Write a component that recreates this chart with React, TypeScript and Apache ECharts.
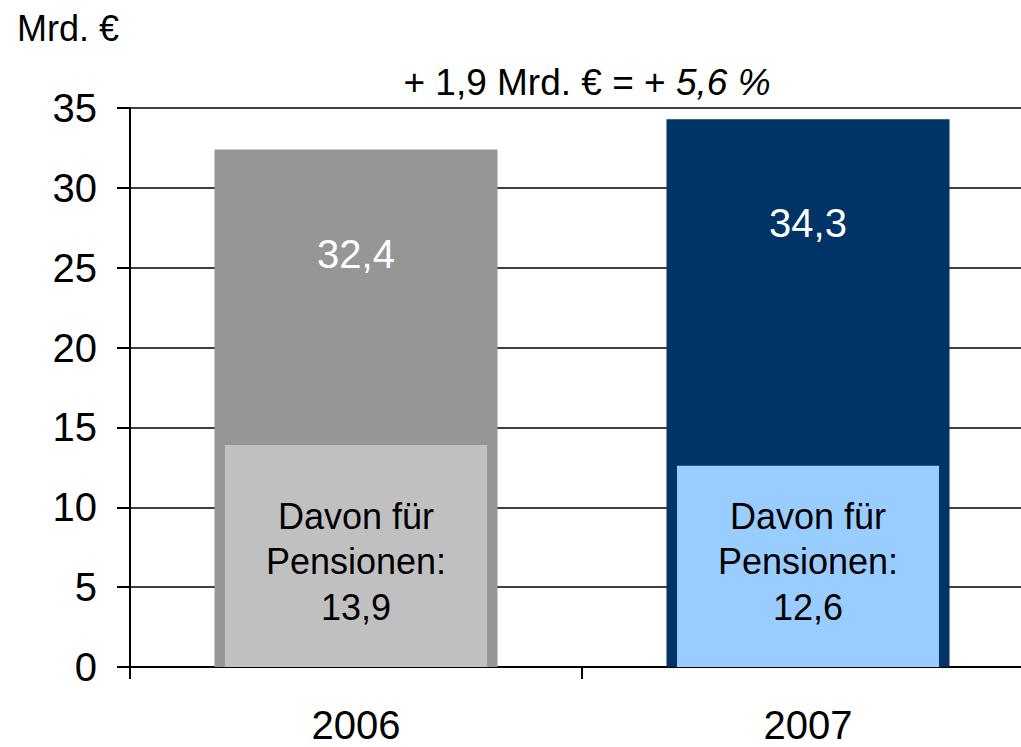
import React, { useEffect, useRef } from "react";
import * as echarts from "echarts";

const categories = ["2006", "2007"];
const totalValues = [32.4, 34.3];
const pensionValues = [13.9, 12.6];
const totalColors = ["#969696", "#003366"];
const pensionColors = ["#C0C0C0", "#99CCFF"];
const pensionLabel = ["Davon für", "Pensionen:"];
const unitLabel = "Mrd. €";
const changeText = "+ 1,9 Mrd. € = + ";
const changePct = "5,6 %";

const FONT = "'Liberation Sans', Arial, sans-serif";
const fmt = (v: number) => String(v).replace(".", ",");

export default function App() {
  const ref = useRef<HTMLDivElement>(null);
  useEffect(() => {
    document.body.style.margin = "0";
    const chart = echarts.init(ref.current!, null, { renderer: "svg" });
    chart.setOption({
      animation: false,
      backgroundColor: "#ffffff",
      textStyle: { fontFamily: FONT },
      grid: { left: 130, right: 6, top: 108, bottom: 80, containLabel: false },
      xAxis: [
        {
          type: "category",
          data: categories,
          axisLine: { show: true, lineStyle: { color: "#000", width: 2 } },
          axisTick: { show: true, length: 12, alignWithLabel: false, lineStyle: { color: "#000", width: 2 } },
          axisLabel: { fontSize: 40, color: "#000", margin: 38, fontFamily: FONT },
          splitLine: { show: false },
        },
        {
          type: "category",
          data: categories,
          show: false,
        },
      ],
      yAxis: {
        type: "value",
        min: 0,
        max: 35,
        interval: 5,
        axisLine: { show: true, lineStyle: { color: "#000", width: 2 } },
        axisTick: { show: true, inside: false, length: 13, lineStyle: { color: "#000", width: 2 } },
        axisLabel: { fontSize: 40, color: "#000", margin: 33, fontFamily: FONT },
        splitLine: { show: true, lineStyle: { color: "#000", width: 1.6 } },
      },
      series: [
        {
          type: "bar",
          xAxisIndex: 0,
          barWidth: 283,
          z: 2,
          data: totalValues.map((v, i) => ({ value: v, itemStyle: { color: totalColors[i] } })),
          label: {
            show: true,
            position: "insideTop",
            distance: 84,
            color: "#fff",
            fontSize: 40,
            fontFamily: FONT,
            formatter: (p: any) => fmt(p.value),
          },
        },
        {
          type: "bar",
          xAxisIndex: 1,
          barWidth: 262,
          z: 3,
          data: pensionValues.map((v, i) => ({ value: v, itemStyle: { color: pensionColors[i] } })),
          label: {
            show: true,
            position: "insideBottom",
            distance: 37,
            color: "#000",
            fontSize: 36,
            lineHeight: 45.5,
            fontFamily: FONT,
            align: "center",
            formatter: (p: any) => `${pensionLabel[0]}\n${pensionLabel[1]}\n${fmt(p.value)}`,
          },
        },
      ],
      graphic: [
        {
          type: "text",
          left: 17,
          top: 10,
          style: { text: unitLabel, fontSize: 36, fontFamily: FONT, fill: "#000" },
        },
        {
          type: "text",
          x: 587,
          y: 82,
          style: {
            text: `{a|${changeText}}{b|${changePct}}`,
            align: "center",
            verticalAlign: "middle",
            fill: "#000",
            rich: {
              a: { fontSize: 37, fontFamily: FONT, fill: "#000" },
              b: { fontSize: 37, fontFamily: FONT, fontStyle: "italic", fill: "#000" },
            },
          },
        },
      ],
    });
    return () => chart.dispose();
  }, []);
  return (
    <div style={{ width: 1021, height: 747, overflow: "hidden", position: "relative" }}>
      <div ref={ref} style={{ width: 1040, height: 747 }} />
    </div>
  );
}
